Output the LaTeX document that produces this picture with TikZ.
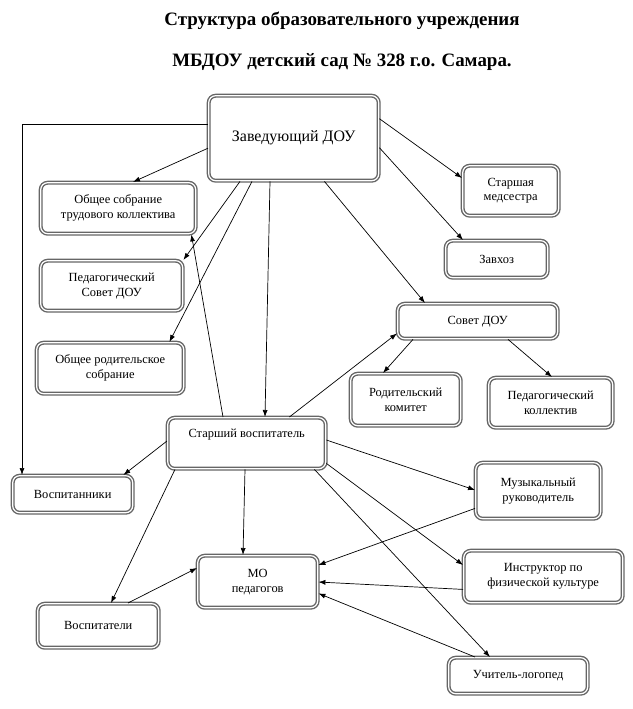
\documentclass[tikz,border=0pt]{standalone}
\usepackage{fontspec}
\setmainfont{Liberation Serif}
\usetikzlibrary{arrows.meta}
\begin{document}
\begin{tikzpicture}[x=1bp, y=-1bp, line width=0.7bp, >={Latex[length=7bp,width=5bp]},
  box/.style={draw=black!60, line width=1.4bp, double=white, double distance=1.2bp,
    rounded corners=7bp, inner sep=0pt, anchor=north west, align=center,
    font=\fontsize{12.5}{15}\selectfont}]
  \useasboundingbox (0,0) rectangle (633,709);

  % Title
  \node[font=\fontsize{19}{22}\selectfont\bfseries] (t1) at (342,21) {Структура образовательного учреждения};
  \node[font=\fontsize{19}{22}\selectfont\bfseries] (t2) at (342,62) {МБДОУ детский сад № 328 г.о. Самара.};

  % Boxes
  \node[box, minimum width=170bp, minimum height=85bp, font=\fontsize{16}{19}\selectfont] (zav) at (208,95) {Заведующий ДОУ};
  \node[box, minimum width=155bp, minimum height=51bp] (os) at (40,182) {Общее собрание\\трудового коллектива};
  \node[box, minimum width=142bp, minimum height=50bp] (ps) at (40,260) {Педагогический\\Совет ДОУ};
  \node[box, minimum width=147bp, minimum height=51bp] (ors) at (36,342) {Общее родительское\\собрание};
  \node[box, minimum width=96bp, minimum height=50bp] (med) at (462,165) {Старшая\\медсестра};
  \node[box, minimum width=102bp, minimum height=37bp] (zavhoz) at (445,240) {Завхоз};
  \node[box, minimum width=160bp, minimum height=35bp] (sovet) at (397,303) {Совет ДОУ};
  \node[box, minimum width=110bp, minimum height=52bp] (rk) at (350,373) {Родительский\\комитет};
  \node[box, minimum width=124bp, minimum height=50bp] (pk) at (488,377) {Педагогический\\коллектив};
  \node[box, minimum width=158bp, minimum height=51bp, text depth=19bp] (sv) at (167,417) {Старший воспитатель};
  \node[box, minimum width=120bp, minimum height=37bp] (vosp) at (12,475) {Воспитанники};
  \node[box, minimum width=120bp, minimum height=52bp] (mo) at (197,555) {МО\\педагогов};
  \node[box, minimum width=121bp, minimum height=44bp] (vospt) at (37,603) {Воспитатели};
  \node[box, minimum width=125bp, minimum height=56bp] (muz) at (475,462) {Музыкальный\\руководитель};
  \node[box, minimum width=159bp, minimum height=52bp] (instr) at (463,550) {Инструктор по\\физической культуре};
  \node[box, minimum width=139bp, minimum height=36bp] (log) at (448,657) {Учитель-логопед};

  % From the head
  \draw[->] ([yshift=13.5bp]zav.west) -| ([xshift=10bp]vosp.north west);
  \draw[->] ([yshift=-10bp]zav.west) -- ([xshift=93bp]os.north west);
  \draw[->] ([xshift=32bp]zav.south west) -- (ps.north east);
  \draw[->] ([xshift=44bp]zav.south west) -- ([xshift=-15bp]ors.north east);
  \draw[->] ([xshift=62bp]zav.south west) -- ([xshift=98bp]sv.north west);
  \draw[->] ([yshift=19.5bp]zav.east) -- ([yshift=-13bp]med.north west);
  \draw[->] ([yshift=-9.5bp]zav.east) -- ([xshift=18bp]zavhoz.north west);
  \draw[->] ([xshift=-55bp]zav.south east) -- ([xshift=28bp]sovet.north west);

  % Council
  \draw[->] ([xshift=16bp]sovet.south west) -- ([xshift=33bp]rk.north west);
  \draw[->] ([xshift=111bp]sovet.south west) -- ([xshift=64bp]pk.north west);

  % From the senior teacher
  \draw[->] ([xshift=-37bp]sv.north east) -- ([yshift=6bp]sovet.south west);
  \draw[->] ([xshift=56bp]sv.north west) -- ([xshift=-5bp]os.south east);
  \draw[->] ([yshift=-24bp]sv.north west) -- ([xshift=-10bp]vosp.north east);
  \draw[->] ([xshift=8bp]sv.south west) -- ([xshift=74bp]vospt.north west);
  \draw[->] ([xshift=78bp]sv.south west) -- ([xshift=46bp]mo.north west);
  \draw[->] ([yshift=-23bp]sv.north east) -- ([yshift=-28bp]muz.north west);
  \draw[->] ([yshift=6bp]sv.south east) -- ([yshift=-15bp]instr.north west);
  \draw[->] ([xshift=-12bp]sv.south east) -- ([xshift=42bp]log.north west);

  % Into the methodical union
  \draw[->] ([xshift=91bp]vospt.north west) -- ([yshift=-13bp]mo.north west);
  \draw[->] ([yshift=11bp]muz.south west) -- ([yshift=-10bp]mo.north east);
  \draw[->] ([yshift=14bp]instr.south west) -- ([yshift=-27bp]mo.north east);
  \draw[->] ([xshift=27bp]log.north west) -- ([yshift=15bp]mo.south east);
\end{tikzpicture}
\end{document}
